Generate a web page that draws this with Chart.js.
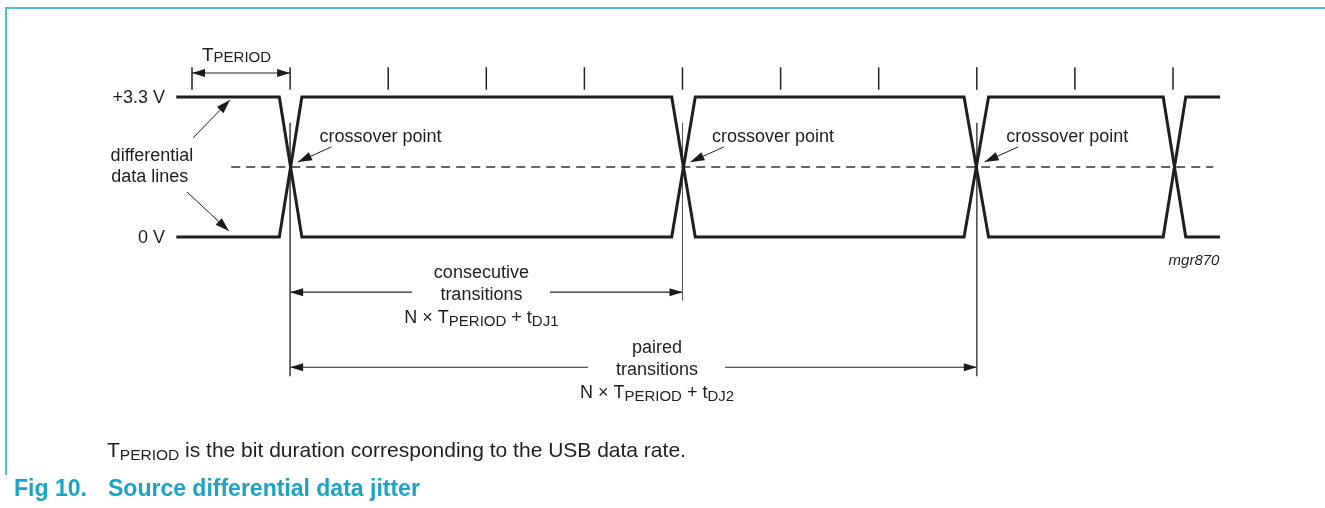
<!DOCTYPE html>
<html><head><meta charset="utf-8">
<script src="https://cdn.jsdelivr.net/npm/chart.js@4.4.1/dist/chart.umd.min.js"></script>
<style>
html,body{margin:0;padding:0;background:#fff;}
#wrap{position:relative;width:1325px;height:508px;overflow:hidden;background:#fff;}
#frame{position:absolute;left:5px;top:7px;width:1330px;height:466px;border-top:2px solid #52b9d1;border-left:2px solid #52b9d1;}
canvas{position:absolute;left:0;top:0;}
</style></head><body>
<div id="wrap"><div id="frame"></div><canvas id="c" width="1325" height="508"></canvas></div>
<script>
// ---- data (x in bit periods T_PERIOD, y in volts) ----
const bitBoundaries = [0,1,2,3,4,5,6,7,8,9,10];
const crossoverBits = [1,5,8];
const signalX   = [-0.16,0.89,1.12,4.89,5.13,7.87,8.12,9.90,10.13,10.48];
const lineAVolt = [3.3,3.3,0,0,3.3,3.3,0,0,3.3,3.3];
const lineBVolt = [0,0,3.3,3.3,0,0,3.3,3.3,0,0];
const crossoverLevel = [1.65];
const midlineX = [0.40,10.41];
const tickVolt = [3.47,4.0];
const crossLineBottom = [-3.28,-1.49,-3.28];
const crossLineTop = 2.69;
const yLevelLabels = ['+3.3 V','0 V'];
const yLevelValues = [3.3,0];
// dimension arrows: [y, from, to, gapStart, gapEnd]
const dimPeriod = [3.866,0,1];
const dimConsecutive = [-1.30,1,5,2.243,3.649];
const dimPaired = [-3.07,1,8,4.037,5.433];
// pointer arrows: [tailX, tailY, tipX, tipY]
const pointers = [
  [0.010,2.334,0.387,3.23],
  [-0.051,1.061,0.377,0.141],
  [1.42,2.122,1.08,1.768],
  [5.42,2.122,5.08,1.768],
  [8.42,2.122,8.08,1.768]
];

const FONT = '"Liberation Sans", Arial, Helvetica, sans-serif';
const INK = '#1e1e1e';

function seg(pairs){ // list of [[x,y],[x,y]] segments -> data with gaps
  const d=[]; pairs.forEach(p=>{d.push({x:p[0][0],y:p[0][1]});d.push({x:p[1][0],y:p[1][1]});d.push({x:p[1][0],y:null});}); return d;
}
function lineDs(data,w,color,dash){
  return {data:data,showLine:true,borderColor:color,borderWidth:w,pointRadius:0,borderDash:dash||[],spanGaps:false,tension:0,fill:false,borderCapStyle:'butt',borderJoinStyle:'miter'};
}
function dimSegs(d){
  if(d.length===3) return [[[d[1],d[0]],[d[2],d[0]]]];
  return [[[d[1],d[0]],[d[3],d[0]]],[[d[4],d[0]],[d[2],d[0]]]];
}

const datasets = [
  lineDs(signalX.map((x,i)=>({x:x,y:lineAVolt[i]})),3,INK),
  lineDs(signalX.map((x,i)=>({x:x,y:lineBVolt[i]})),3,INK),
  lineDs(midlineX.map(x=>({x:x,y:crossoverLevel[0]})),1.3,'#333',[9,6]),
  lineDs(seg(bitBoundaries.map(b=>[[b,tickVolt[0]],[b,tickVolt[1]]])),1.5,'#222'),
  lineDs(seg(crossoverBits.map((b,i)=>[[b,crossLineTop],[b,crossLineBottom[i]]])),1,'#555'),
  lineDs(seg(dimSegs(dimPeriod).concat(dimSegs(dimConsecutive),dimSegs(dimPaired))),1.2,'#222'),
  lineDs(seg(pointers.map(p=>[[p[0],p[1]],[p[2],p[3]]])),1,'#222')
];

function head(ctx,tx,ty,fx,fy,len,hw){
  const a=Math.atan2(ty-fy,tx-fx);
  ctx.save();ctx.translate(tx,ty);ctx.rotate(a);
  ctx.beginPath();ctx.moveTo(0,0);ctx.lineTo(-len,-hw);ctx.lineTo(-len,hw);ctx.closePath();
  ctx.fillStyle='#1a1a1a';ctx.fill();ctx.restore();
}
function rich(ctx,parts,x,y,align){
  let w=0;
  parts.forEach(p=>{ctx.font=(p.st||'')+' '+p.s+'px '+FONT;p.w=ctx.measureText(p.t).width;w+=p.w;});
  let sx = align==='center'?x-w/2:(align==='right'?x-w:x);
  ctx.textAlign='left';ctx.textBaseline='alphabetic';
  parts.forEach(p=>{ctx.font=(p.st||'')+' '+p.s+'px '+FONT;ctx.fillText(p.t,sx,y+(p.dy||0));sx+=p.w;});
}
function formula(sub){
  return [{t:'N × T',s:18},{t:'PERIOD',s:15,dy:3},{t:' + t',s:18},{t:sub,s:15,dy:3}];
}

const annot = {
  id:'annot',
  afterDatasetsDraw(chart){
    const ctx=chart.ctx, X=chart.scales.x, Y=chart.scales.y;
    const px=v=>X.getPixelForValue(v), py=v=>Y.getPixelForValue(v);
    ctx.save();
    // arrowheads on dimension lines
    [dimPeriod,dimConsecutive,dimPaired].forEach(d=>{
      const y=py(d[0]);
      head(ctx,px(d[1]),y,px(d[1])+20,y,13,4);
      head(ctx,px(d[2]),y,px(d[2])-20,y,13,4);
    });
    pointers.forEach(p=>head(ctx,px(p[2]),py(p[3]),px(p[0]),py(p[1]),14,4.5));
    ctx.fillStyle=INK;
    // level labels
    yLevelLabels.forEach((t,i)=>{ctx.font='18px '+FONT;ctx.textAlign='right';ctx.textBaseline='middle';ctx.fillText(t,px(-0.275),py(yLevelValues[i])+1);});
    ctx.textAlign='center';ctx.textBaseline='alphabetic';ctx.font='18px '+FONT;
    ctx.fillText('differential',px(-0.408),py(1.79));
    ctx.fillText('data lines',px(-0.43),py(1.30));
    // crossover labels
    crossoverBits.forEach(b=>{ctx.font='18px '+FONT;ctx.textAlign='left';ctx.textBaseline='alphabetic';ctx.fillText('crossover point',px(b+0.30),py(2.24));});
    // T_PERIOD
    rich(ctx,[{t:'T',s:19},{t:'PERIOD',s:15,dy:1}],px(0.102),py(4.149),'left');
    // consecutive
    ctx.font='18px '+FONT;ctx.textAlign='center';
    ctx.fillText('consecutive',px(2.95),py(-0.966));
    ctx.fillText('transitions',px(2.95),py(-1.485));
    rich(ctx,formula('DJ1'),px(2.95),py(-2.028),'center');
    ctx.font='18px '+FONT;ctx.textAlign='center';
    ctx.fillText('paired',px(4.74),py(-2.735));
    ctx.fillText('transitions',px(4.74),py(-3.253));
    rich(ctx,formula('DJ2'),px(4.74),py(-3.795),'center');
    // mgr
    ctx.font='italic 15px '+FONT;ctx.textAlign='center';ctx.fillText('mgr870',px(10.214),py(-0.66));
    // footnote & caption
    rich(ctx,[{t:'T',s:21},{t:'PERIOD',s:15.5,dy:3},{t:' is the bit duration corresponding to the USB data rate.',s:21}],107,457,'left');
    ctx.fillStyle='#1aa3c2';
    rich(ctx,[{t:'Fig 10.',s:23,st:'bold'}],14,496,'left');
    rich(ctx,[{t:'Source differential data jitter',s:23,st:'bold'}],108,496,'left');
    ctx.restore();
  }
};

new Chart(document.getElementById('c'),{
  type:'scatter',
  data:{datasets:datasets},
  options:{
    responsive:false,animation:false,devicePixelRatio:1,events:[],
    layout:{padding:0},
    plugins:{legend:{display:false},tooltip:{enabled:false}},
    scales:{
      x:{type:'linear',display:false,min:-1.9572,max:11.5494},
      y:{type:'linear',display:false,min:-6.388,max:5.5865}
    }
  },
  plugins:[annot]
});
</script>
</body></html>
